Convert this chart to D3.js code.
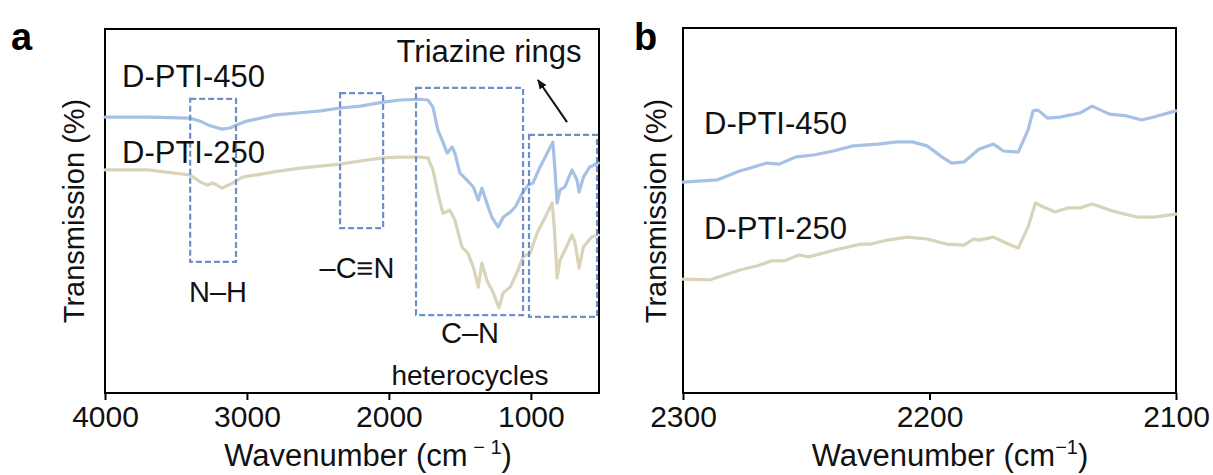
<!DOCTYPE html>
<html>
<head>
<meta charset="utf-8">
<script src="https://cdn.jsdelivr.net/npm/d3@7.9.0/dist/d3.min.js"></script>
<style>
  body { margin: 0; background: #fff; }
  svg { display: block; font-family: Arial, "Liberation Sans", sans-serif; }
</style>
</head>
<body>
<svg id="chart" width="1213" height="475"></svg>
<script>
// full range spectra (panel a)
const fullWn450 = [4000,3700,3400,3330,3260,3175,3120,3075,3000,2800,2625,2480,2345,2200,2040,1920,1780,1725,1690,1655,1625,1590,1555,1535,1500,1450,1405,1370,1345,1310,1275,1230,1195,1145,1110,1060,1020,985,935,885,845,830,815,795,760,710,675,660,630,585,525];
const fullT450 = [75.8,75.8,75.5,74.7,73.4,72.5,72.8,73.6,74.7,76.4,77.0,77.5,78.3,78.8,79.9,80.5,80.7,80.5,78.6,72.2,69.5,65.9,67.6,65.9,60.4,58.5,56.6,53.0,56.3,52.2,48.3,45.6,48.3,49.7,51.1,54.9,57.1,57.7,62.1,65.9,68.9,61.3,52.2,55.8,56.6,61.3,58.5,55.2,59.3,62.1,63.2];
const fullWn250 = [4000,3700,3400,3330,3280,3240,3175,3100,3030,2800,2625,2345,2155,2040,1920,1780,1725,1690,1655,1620,1570,1535,1485,1445,1405,1370,1345,1310,1265,1225,1195,1145,1090,1055,1005,955,885,850,835,815,795,760,710,690,660,630,570,525];
const fullT250 = [61.3,61.3,59.9,58.0,57.1,57.7,56.3,57.7,59.3,60.8,61.8,62.9,64.0,64.6,64.8,64.8,64.6,61.3,54.9,49.4,50.2,47.5,40.1,38.5,34.6,29.1,35.7,31.0,27.5,23.4,27.5,29.1,33.8,37.4,38.5,44.0,49.4,52.2,45.6,31.6,36.5,39.3,43.4,41.5,34.3,40.1,42.9,43.4];

// zoomed -C≡N region (panel b)
const zoomWn450 = [2300,2286,2277,2273,2266,2261,2254,2247,2239,2231,2221,2213,2207,2201,2195,2191,2186,2180,2174,2170,2164,2160,2158,2156,2152,2147,2139,2134,2127,2120,2114,2109,2100];
const zoomT450 = [57.8,58.4,60.8,61.6,63.0,62.7,64.7,65.2,66.3,67.7,68.2,68.8,68.8,67.7,64.7,63.0,63.3,66.8,68.2,66.3,66.0,72.1,77.3,77.5,75.3,75.6,76.7,78.6,76.4,75.9,74.8,75.6,77.3];
const zoomWn250 = [2300,2289,2284,2277,2270,2264,2259,2253,2249,2240,2228,2224,2217,2209,2201,2193,2186,2182,2180,2174,2169,2164,2160,2157,2154,2149,2144,2139,2134,2126,2116,2109,2100];
const zoomT250 = [31.2,31.0,32.1,33.7,34.8,36.2,36.2,37.8,37.3,38.9,40.8,40.8,41.9,42.7,42.2,40.8,40.5,42.2,41.9,42.7,41.1,39.7,45.5,52.1,51.0,49.6,50.7,50.7,51.8,49.9,48.2,48.2,49.0];

const fullTicks = [4000, 3000, 2000, 1000];
const zoomTicks = [2300, 2200, 2100];

// band boxes: [wnStart, wnEnd, tTop, tBottom]
const bandNames = ['N–H', '–C≡N', 'C–N', 'Triazine'];
const bandBoxes = [[3400, 3077, 80.8, 36.0], [2344, 2041, 82.4, 45.3], [1809, 1055, 83.8, 21.4], [1013, 534, 70.9, 20.9]];

const blue = '#a7c1e4', beige = '#d9d3ba', boxColor = '#6d90c8';
const svg = d3.select('#chart');

function panel(x0, x1, y0, y1, domain, ticks) {
  const x = d3.scaleLinear().domain(domain).range([x0, x1]);
  const y = d3.scaleLinear().domain([0, 100]).range([y1, y0]);
  const g = svg.append('g');
  g.append('g')
    .attr('transform', `translate(0,${y1})`)
    .call(d3.axisBottom(x).tickValues(ticks).tickSize(7).tickSizeOuter(0).tickPadding(6).tickFormat(d3.format('d')))
    .call(a => a.select('.domain').remove())
    .call(a => a.selectAll('line').attr('stroke', '#000').attr('stroke-width', 2))
    .call(a => a.selectAll('text').attr('font-size', 30).attr('fill', '#111').attr('font-family', 'Arial, "Liberation Sans", sans-serif'));
  g.append('rect').attr('x', x0).attr('y', y0).attr('width', x1 - x0).attr('height', y1 - y0)
    .attr('fill', 'none').attr('stroke', '#000').attr('stroke-width', 2);
  return { x, y, g };
}

function drawLine(p, wn, t, color) {
  const line = d3.line().x((d, i) => p.x(wn[i])).y(d => p.y(d));
  p.g.append('path').datum(t).attr('d', line)
    .attr('fill', 'none').attr('stroke', color).attr('stroke-width', 3.2)
    .attr('stroke-linejoin', 'round').attr('stroke-linecap', 'round');
}

function titles(p, cx, ty, xt) {
  const t = p.g.append('text').attr('x', cx).attr('y', 466).attr('text-anchor', 'middle')
    .attr('font-size', 31).attr('fill', '#111');
  t.append('tspan').text('Wavenumber (cm');
  t.append('tspan').attr('dy', -12).attr('font-size', 20).text(xt);
  t.append('tspan').attr('dy', 12).text(')');
  p.g.append('text').attr('transform', `translate(${ty},211) rotate(-90)`)
    .attr('text-anchor', 'middle').attr('font-size', 29).attr('fill', '#111')
    .text('Transmission (%)');
}

// panel a
const pa = panel(105, 599, 29, 393, [4000, 520], fullTicks);
drawLine(pa, fullWn450, fullT450, blue);
drawLine(pa, fullWn250, fullT250, beige);
titles(pa, 368, 84, ' \u2212 1');

pa.g.selectAll('rect.band').data(bandBoxes).join('rect').attr('class', 'band')
  .attr('x', d => pa.x(d[0])).attr('y', d => pa.y(d[2]))
  .attr('width', d => pa.x(d[1]) - pa.x(d[0])).attr('height', d => pa.y(d[3]) - pa.y(d[2]))
  .attr('fill', 'none').attr('stroke', boxColor).attr('stroke-width', 2.2).attr('stroke-dasharray', '6,3');

const ann = (g, x, y, s, size) => g.append('text').attr('x', x).attr('y', y).attr('font-size', size)
  .attr('fill', '#111').text(s);
ann(pa.g, 122, 87, 'D-PTI-450', 31);
ann(pa.g, 122, 163, 'D-PTI-250', 31);
ann(pa.g, 218, 302, bandNames[0], 29).attr('text-anchor', 'middle');
ann(pa.g, 357, 278, bandNames[1], 29).attr('text-anchor', 'middle');
ann(pa.g, 470, 343, 'C–N', 29).attr('text-anchor', 'middle');
ann(pa.g, 470, 385, 'heterocycles', 28).attr('text-anchor', 'middle');
ann(pa.g, 489, 62, 'Triazine rings', 31).attr('text-anchor', 'middle');

svg.append('defs').append('marker').attr('id', 'head').attr('viewBox', '0 0 10 10')
  .attr('refX', 9).attr('refY', 5).attr('markerWidth', 5).attr('markerHeight', 5).attr('orient', 'auto')
  .append('path').attr('d', 'M0,1 L10,5 L0,9 Z').attr('fill', '#111');
pa.g.append('line').attr('x1', pa.x(745)).attr('y1', pa.y(74.4)).attr('x2', pa.x(950)).attr('y2', pa.y(86.0))
  .attr('stroke', '#111').attr('stroke-width', 2).attr('marker-end', 'url(#head)');

// panel b
const pb = panel(683, 1176, 28, 393, [2300, 2100], zoomTicks);
drawLine(pb, zoomWn450, zoomT450, blue);
drawLine(pb, zoomWn250, zoomT250, beige);
titles(pb, 950, 666, '\u22121');
ann(pb.g, 704, 134, 'D-PTI-450', 31);
ann(pb.g, 704, 239, 'D-PTI-250', 31);

// panel letters
svg.append('text').attr('x', 11).attr('y', 50).attr('font-size', 38).attr('font-weight', 'bold').text('a');
svg.append('text').attr('x', 634).attr('y', 50).attr('font-size', 38).attr('font-weight', 'bold').text('b');
</script>
</body>
</html>
